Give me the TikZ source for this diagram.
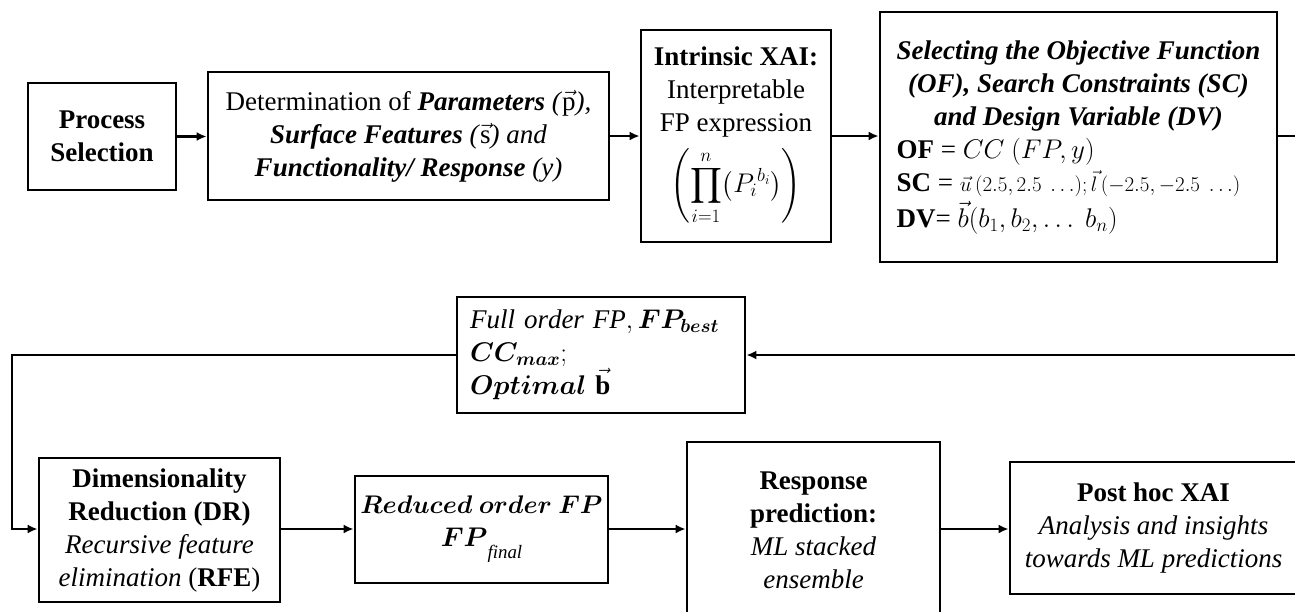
\RequirePackage{fix-cm}
\documentclass[tikz,border=0pt]{standalone}
\usepackage{amsmath}
\usepackage{fontspec}
\setmainfont{Liberation Serif}
\usetikzlibrary{arrows.meta}
\newcommand{\dfs}{\fontsize{27}{33}\selectfont}
\begin{document}
\begin{tikzpicture}[x=1pt,y=-1pt,
  box/.style={draw, line width=2.8pt, inner sep=0pt, align=center, font=\dfs},
  conn/.style={line width=2.8pt},
  arr/.style={conn, -{Latex[length=10pt,width=9pt]}}]
\useasboundingbox (0,0) rectangle (1295,611);

% top row
\node[box, minimum width=148pt, minimum height=107pt] (proc) at (102,136.5)
  {\textbf{Process}\\\textbf{Selection}};
\node[box, minimum width=401pt, minimum height=128pt] (det) at (408.5,136)
  {Determination of \textbf{\textit{Parameters}} \textit{(}$\vec{\mathrm{p}}$\textit{),}\\
   \textbf{\textit{Surface Features}} \textit{(}$\vec{\mathrm{s}}$\textit{) and}\\
   \textbf{\textit{Functionality/ Response}} \textit{(y)}};
\node[box, minimum width=190pt, minimum height=212pt] (intr) at (736,136)
  {\textbf{Intrinsic XAI:}\\Interpretable\\FP expression\\[10pt]
   $\displaystyle\left(\prod_{i=1}^{n}\bigl(P_i{}^{b_i}\bigr)\right)$};
\node[box, minimum width=397pt, minimum height=250pt] (sel) at (1078.5,137)
  {\begin{tabular}{@{}l@{}}
   \multicolumn{1}{@{}c@{}}{\textbf{\textit{Selecting the Objective Function}}}\\
   \multicolumn{1}{@{}c@{}}{\textbf{\textit{(OF), Search Constraints (SC)}}}\\
   \multicolumn{1}{@{}c@{}}{\textbf{\textit{and Design Variable (DV)}}}\\
   \textbf{OF} = $CC\ (FP,y)$\\
   \textbf{SC} = {\fontsize{21}{24}\selectfont $\vec{u}\,(2.5, 2.5\ \ldots);\vec{l}\,(-2.5,-2.5\ \ldots)$}\\
   \textbf{DV}= $\vec{b}(b_1, b_2,\ldots\ b_n)$
   \end{tabular}};

% feedback box
\node[box, minimum width=288pt, minimum height=116pt, text width=262pt, align=left] (full) at (601,355)
  {$\mathit{Full\ order\ FP},\boldsymbol{FP_{best}}$\\
   $\boldsymbol{CC_{max}};$\\
   $\boldsymbol{Optimal}\ \vec{\mathbf{b}}$};

% bottom row
\node[box, minimum width=241pt, minimum height=144pt] (dr) at (159.5,530)
  {\textbf{Dimensionality}\\\textbf{Reduction (DR)}\\\textit{Recursive feature}\\\textit{elimination} (\textbf{RFE})};
\node[box, minimum width=253pt, minimum height=107pt] (red) at (481.5,529.5)
  {{\fontsize{25.5}{33}\selectfont$\boldsymbol{Reduced\ order\ FP}$}\\
   $\boldsymbol{FP}$\raisebox{-12pt}{$\scriptstyle\mathit{final}$}};
\node[box, minimum width=253pt, minimum height=176pt] (resp) at (813.5,530)
  {\textbf{Response}\\\textbf{prediction:}\\\textit{ML stacked}\\\textit{ensemble}};
\node[box, minimum width=287pt, minimum height=132pt] (post) at (1153.5,528)
  {\textbf{Post hoc XAI}\\\textit{Analysis and insights}\\\textit{towards ML predictions}};

\coordinate (rtop) at (1305,136);
\coordinate (rbot) at (1305,355);
\coordinate (ltop) at (12,355);
\coordinate (lbot) at (12,529);

% connectors
\draw[arr] (proc.east) -- (proc.east -| det.west);
\draw[arr] (det.east) -- (det.east -| intr.west);
\draw[arr] (intr.east) -- (intr.east -| sel.west);
\draw[arr] (sel.east |- rtop) -- (rtop) -- (rbot) -- (full.east);
\draw[arr] (full.west) -- (ltop) -- (lbot) -- (lbot -| dr.west);
\draw[arr] (lbot -| dr.east) -- (lbot -| red.west);
\draw[arr] (lbot -| red.east) -- (lbot -| resp.west);
\draw[arr] (lbot -| resp.east) -- (lbot -| post.west);
\end{tikzpicture}
\end{document}
